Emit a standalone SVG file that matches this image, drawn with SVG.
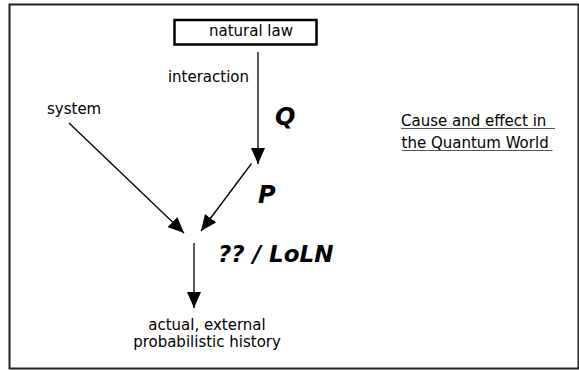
<svg xmlns="http://www.w3.org/2000/svg" width="579" height="370" viewBox="0 0 579 370">
<style>
.t{font-family:"DejaVu Sans",Verdana,sans-serif;font-size:15px;fill:#000}
.b{font-family:"DejaVu Sans",Verdana,sans-serif;font-weight:bold;font-style:italic;fill:#000}
.c{stroke:#000;stroke-width:1.3;fill:none;marker-end:url(#ah)}
.u{stroke:#555;stroke-width:1}
</style>
<defs>
<marker id="ah" markerUnits="userSpaceOnUse" markerWidth="16" markerHeight="14" refX="16" refY="7" orient="auto" viewBox="0 0 16 14">
<path d="M0,0 L16,7 L0,14 z" fill="#000"/>
</marker>
</defs>
<rect x="9.5" y="4.5" width="569" height="364" fill="#fff" stroke="#222" stroke-width="2"/>
<g id="natural-law">
<rect x="174.5" y="20" width="142" height="24.5" fill="#fff" stroke="#000" stroke-width="2.5"/>
<text class="t" x="251" y="36" text-anchor="middle">natural law</text>
</g>
<g id="system"><text class="t" x="47" y="114">system</text></g>
<g id="interaction"><text class="t" x="249" y="82" text-anchor="end">interaction</text></g>
<g id="Q"><text class="b" x="275" y="125" font-size="24">Q</text></g>
<g id="P"><text class="b" x="258" y="203" font-size="24">P</text></g>
<g id="loln"><text class="b" x="218" y="262" font-size="23">?? / LoLN</text></g>
<g id="history">
<text class="t" x="207" y="330" text-anchor="middle">actual, external</text>
<text class="t" x="207" y="347" text-anchor="middle">probabilistic history</text>
</g>
<g id="title">
<text class="t" x="401" y="125.5">Cause and effect in</text>
<text class="t" x="401.5" y="147.5">the Quantum World</text>
<line class="u" x1="401" y1="128.5" x2="555" y2="128.5"/>
<line class="u" x1="401.5" y1="150.5" x2="552.5" y2="150.5"/>
</g>
<g id="connectors">
<line class="c" x1="258" y1="52" x2="258" y2="164"/>
<line class="c" x1="251.5" y1="163.5" x2="201" y2="231"/>
<line class="c" x1="69" y1="123" x2="184" y2="233"/>
<line class="c" x1="194" y1="243" x2="194" y2="308"/>
</g>
</svg>
